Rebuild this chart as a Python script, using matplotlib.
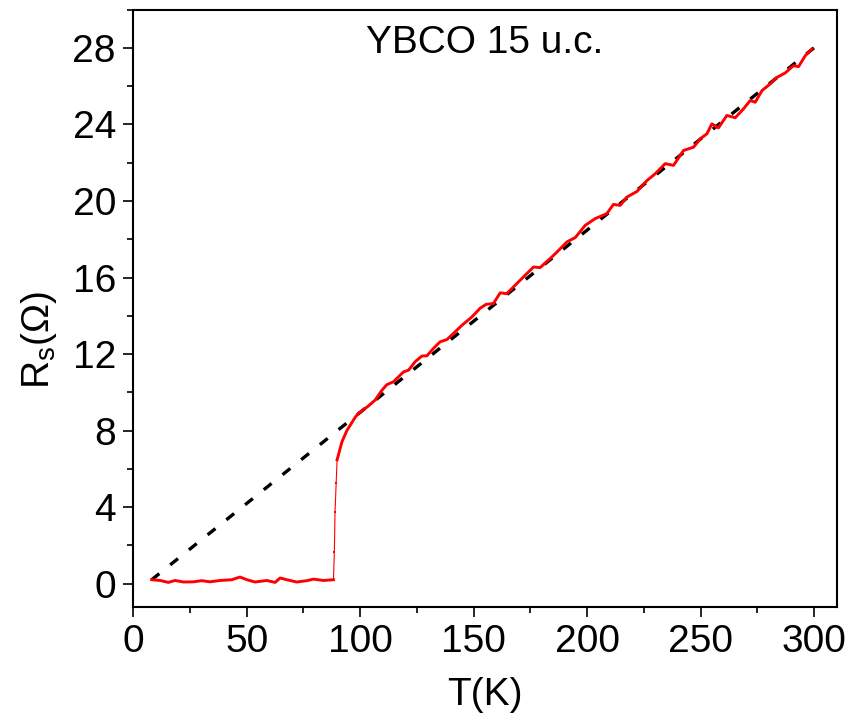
"""YBCO 15 u.c. sheet resistance vs temperature, with linear normal-state fit."""

import matplotlib
matplotlib.use("Agg")
import matplotlib.pyplot as plt
from matplotlib.ticker import MultipleLocator

temp_K = [8.1, 11.8, 15.4, 18.4, 22.1, 26.5, 30.1, 33.8, 38.2, 43.4, 47.0, 50.0,
          53.7, 58.8, 62.5, 64.7, 67.6, 72.0, 76.5, 79.4, 83.8, 88.2,
          88.6, 88.9, 89.4, 89.8,
          91.9, 94.1, 97.8, 99.2, 103.2, 106.6, 109.5, 111.7, 114.6, 119.1, 121.3,
          124.2, 127.2, 129.4, 132.3, 135.2, 138.2, 141.1, 144.8, 149.2, 152.9,
          155.5, 158.7, 161.7, 164.6, 169.0, 172.7, 176.4, 179.3, 183.7, 186.7,
          191.1, 194.8, 199.2, 203.6, 208.7, 211.6, 214.6, 217.5, 222.0, 226.4,
          230.0, 234.4, 238.1, 242.5, 246.9, 249.9, 252.8, 255.0, 257.9, 261.6,
          265.3, 268.9, 271.9, 274.1, 277.1, 280.7, 283.7, 287.3, 291.0, 293.2,
          296.2, 299.1]
rs_ohm = [0.21, 0.17, 0.07, 0.17, 0.09, 0.10, 0.16, 0.10, 0.17, 0.21, 0.35, 0.21,
          0.09, 0.17, 0.07, 0.30, 0.21, 0.09, 0.16, 0.24, 0.17, 0.21,
          1.65, 3.74, 5.28, 6.47,
          7.40, 8.00, 8.70, 8.90, 9.25, 9.60, 10.10, 10.40, 10.55, 11.07, 11.16,
          11.60, 11.90, 11.91, 12.30, 12.64, 12.76, 13.08, 13.50, 13.94, 14.40,
          14.60, 14.64, 15.20, 15.16, 15.68, 16.12, 16.55, 16.52, 16.99, 17.33,
          17.86, 18.09, 18.73, 19.08, 19.34, 19.82, 19.77, 20.20, 20.50, 21.07,
          21.42, 21.95, 21.86, 22.64, 22.81, 23.25, 23.51, 24.03, 23.82, 24.47,
          24.35, 24.81, 25.25, 25.16, 25.77, 26.12, 26.46, 26.69, 27.07, 27.02,
          27.60, 27.94]

# linear fit of the normal state, extrapolated to low T
fit_T = [8.0, 300.0]
fit_R = [0.2, 28.0]

FONT = "Liberation Sans"


def main():
    plt.rcParams["font.family"] = [FONT, "DejaVu Sans"]
    plt.rcParams["mathtext.fontset"] = "custom"
    plt.rcParams["mathtext.rm"] = FONT
    plt.rcParams["mathtext.it"] = FONT + ":italic"

    fig = plt.figure(figsize=(8.52, 7.22), dpi=100)
    ax = fig.add_axes([0.1565, 0.1597, 0.8255, 0.827])

    ax.plot(fit_T, fit_R, color="black", lw=2.4, dashes=(3.0, 4.2), zorder=2)

    red = "#ff0000"
    # superconducting plateau and normal state drawn thick, the jump thin with points
    ax.plot(temp_K[:22], rs_ohm[:22], color=red, lw=2.1, zorder=3)
    ax.plot(temp_K[21:27], rs_ohm[21:27], color=red, lw=0.8, marker="s", ms=1.6,
            mew=0, zorder=3)
    ax.plot(temp_K[25:], rs_ohm[25:], color=red, lw=2.1, zorder=3)

    ax.set_xlim(0, 310)
    ax.set_ylim(-1.2, 30)
    ax.xaxis.set_major_locator(MultipleLocator(50))
    ax.xaxis.set_minor_locator(MultipleLocator(25))
    ax.yaxis.set_major_locator(MultipleLocator(4))
    ax.yaxis.set_minor_locator(MultipleLocator(2))
    ax.tick_params(which="major", direction="out", length=7.5, width=1.2,
                   labelsize=28, pad=5)
    ax.tick_params(which="minor", direction="out", length=4, width=1.2)
    ax.tick_params(top=False, right=False)
    for sp in ax.spines.values():
        sp.set_linewidth(1.5)

    ax.set_xlabel("T(K)", fontsize=28)
    ax.set_ylabel(r"R$_\mathrm{s}$($\Omega$)", fontsize=28)
    ax.xaxis.set_label_coords(0.5, -0.117)
    ax.yaxis.set_label_coords(-0.106, 0.447)

    ax.text(0.5, 0.9275, "YBCO 15 u.c.", transform=ax.transAxes, ha="center",
            va="baseline", fontsize=28)

    fig.savefig("out.png", dpi=100)
    plt.close(fig)


if __name__ == "__main__":
    main()
